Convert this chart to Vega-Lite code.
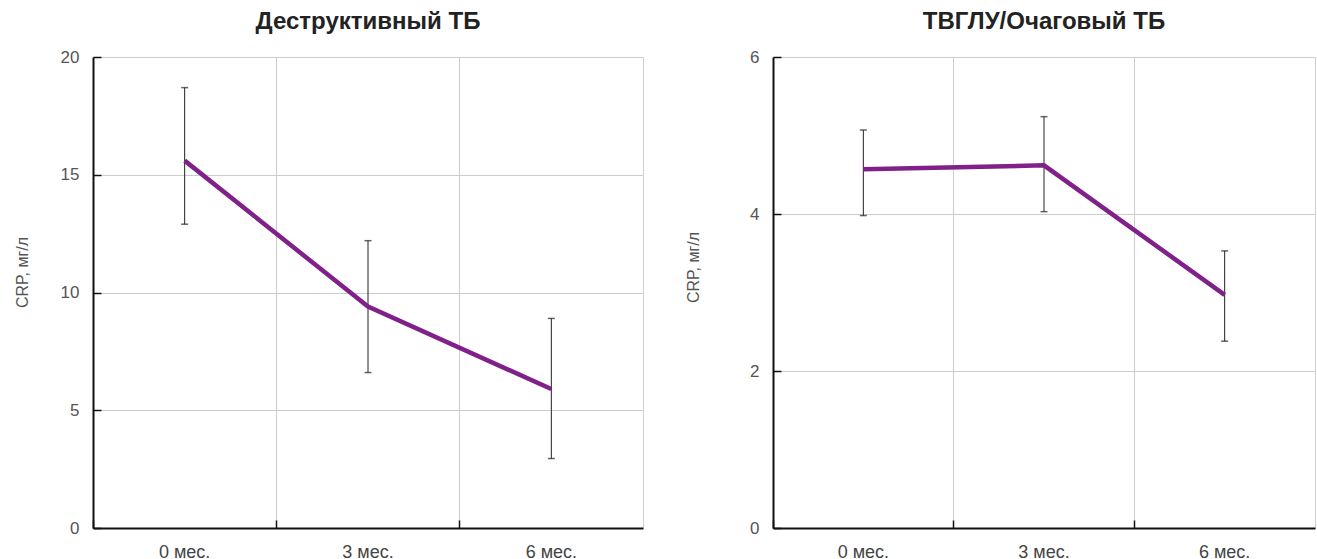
{
  "$schema": "https://vega.github.io/schema/vega-lite/v6.json",
  "background": "white",
  "padding": {"left": 13, "top": 9, "right": 0, "bottom": 0},
  "spacing": 40,
  "config": {
    "font": "Liberation Sans",
    "view": {"stroke": "#d0d0d0", "strokeWidth": 1},
    "title": {"font": "Liberation Sans", "fontSize": 24, "fontWeight": "bold", "color": "#222222", "anchor": "middle", "offset": 14},
    "axis": {
      "domainColor": "#111111", "domainWidth": 2,
      "tickColor": "#111111", "tickWidth": 1.5, "tickSize": -8,
      "gridColor": "#cccccc", "gridWidth": 1,
      "labelColor": "#555555", "labelFont": "Liberation Sans", "labelFontSize": 17,
      "titleFont": "Liberation Sans", "titleFontSize": 16, "titleFontWeight": "normal", "titleColor": "#555555"
    },
    "axisY": {"labelPadding": 22, "titleAngle": 270, "titleAlign": "center", "titleBaseline": "middle", "format": "d"},
    "axisX": {"grid": true, "labelAngle": 0, "labelPadding": 23, "title": null, "labelColor": "#444444", "labelFontSize": 18}
  },
  "datasets": {
    "destr": [
      {"period": "0 мес.", "crp": 15.6, "lo": 12.9, "hi": 18.7},
      {"period": "3 мес.", "crp": 9.4, "lo": 6.6, "hi": 12.2},
      {"period": "6 мес.", "crp": 5.9, "lo": 2.95, "hi": 8.9}
    ],
    "tvglu": [
      {"period": "0 мес.", "crp": 4.57, "lo": 3.98, "hi": 5.07},
      {"period": "3 мес.", "crp": 4.62, "lo": 4.03, "hi": 5.24},
      {"period": "6 мес.", "crp": 2.97, "lo": 2.38, "hi": 3.53}
    ]
  },
  "hconcat": [
    {
      "width": 550, "height": 471,
      "title": {"text": "Деструктивный ТБ"},
      "data": {"name": "destr"},
      "encoding": {
        "x": {"field": "period", "type": "ordinal", "sort": null,
              "scale": {"paddingInner": 0, "paddingOuter": 0},
              "axis": {"bandPosition": 0}}
      },
      "layer": [
        {"mark": {"type": "rule", "color": "#222222", "strokeWidth": 1},
         "encoding": {
           "y": {"field": "lo", "type": "quantitative", "title": "CRP, мг/л",
                 "scale": {"domain": [0, 20], "nice": false},
                 "axis": {"values": [0, 5, 10, 15, 20], "titleX": -71, "titleY": 215}},
           "y2": {"field": "hi"}}},
        {"mark": {"type": "tick", "color": "#222222", "thickness": 1.5, "size": 7},
         "encoding": {"y": {"field": "lo", "type": "quantitative", "title": "CRP, мг/л"}}},
        {"mark": {"type": "tick", "color": "#222222", "thickness": 1.5, "size": 7},
         "encoding": {"y": {"field": "hi", "type": "quantitative", "title": "CRP, мг/л"}}},
        {"mark": {"type": "line", "color": "#7f2189", "strokeWidth": 4.5},
         "encoding": {"y": {"field": "crp", "type": "quantitative", "title": "CRP, мг/л"}}}
      ]
    },
    {
      "width": 542, "height": 471,
      "title": {"text": "ТВГЛУ/Очаговый ТБ"},
      "data": {"name": "tvglu"},
      "encoding": {
        "x": {"field": "period", "type": "ordinal", "sort": null,
              "scale": {"paddingInner": 0, "paddingOuter": 0},
              "axis": {"bandPosition": 0}}
      },
      "layer": [
        {"mark": {"type": "rule", "color": "#222222", "strokeWidth": 1},
         "encoding": {
           "y": {"field": "lo", "type": "quantitative", "title": "CRP, мг/л",
                 "scale": {"domain": [0, 6], "nice": false},
                 "axis": {"values": [0, 2, 4, 6], "titleX": -80, "titleY": 210}},
           "y2": {"field": "hi"}}},
        {"mark": {"type": "tick", "color": "#222222", "thickness": 1.5, "size": 7},
         "encoding": {"y": {"field": "lo", "type": "quantitative", "title": "CRP, мг/л"}}},
        {"mark": {"type": "tick", "color": "#222222", "thickness": 1.5, "size": 7},
         "encoding": {"y": {"field": "hi", "type": "quantitative", "title": "CRP, мг/л"}}},
        {"mark": {"type": "line", "color": "#7f2189", "strokeWidth": 4.5},
         "encoding": {"y": {"field": "crp", "type": "quantitative", "title": "CRP, мг/л"}}}
      ]
    }
  ]
}
